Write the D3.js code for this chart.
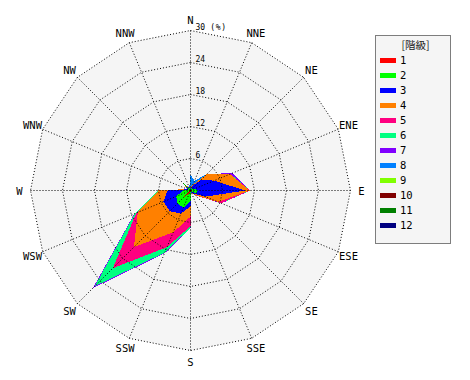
<!DOCTYPE html>
<html>
<head>
<meta charset="utf-8">
<script src="https://cdn.jsdelivr.net/npm/d3@7"></script>
<style>
  html, body { margin: 0; padding: 0; background: #ffffff; }
  svg { display: block; }
  text { font-family: "DejaVu Sans Mono", monospace; fill: #000; }
</style>
</head>
<body>
<script>
// ---- data ----
const directions = ["N","NNE","NE","ENE","E","ESE","SE","SSE","S","SSW","SW","WSW","W","WNW","NW","NNW"];
const classLabels = ["1","2","3","4","5","6","7","8","9","10","11","12"];
const ringTicks = [6, 12, 18, 24, 30];
const rangeMax = 30;
// frequency (%) of each class for each direction (N, NNE, ... NNW)
const class1  = [0.1, 0.2, 0.2, 0.2, 0.3, 0.2, 0.1, 0.1, 0.3, 0.6, 1.7, 0.3, 0.2, 0.1, 0.2, 0.1];
const class2  = [0.2, 0.3, 0.3, 0.6, 1.1, 1.0, 0.3, 0.2, 1.7, 2.9, 1.7, 2.6, 1.2, 0.3, 1.7, 0.3];
const class3  = [0.2, 0.5, 2.4, 4.0, 8.9, 1.8, 0.4, 0.1, 1.0, 1.2, 2.1, 2.6, 2.9, 0.2, 0.0, 0.1];
const class4  = [0.1, 0.2, 1.4, 3.2, 0.8, 2.6, 0.4, 0.1, 1.9, 3.8, 9.5, 5.2, 1.7, 0.1, 0.0, 0.1];
const class5  = [0.0, 0.0, 0.0, 0.05, 0.05, 0.6, 0.1, 0.0, 1.8, 3.0, 5.6, 0.3, 0.0, 0.0, 0.0, 0.0];
const class6  = [0.0, 0.0, 0.0, 0.05, 0.05, 0.05, 0.0, 0.0, 0.3, 1.1, 4.8, 0.3, 0.0, 0.0, 0.0, 0.0];
const class7  = [0.0, 0.0, 0.1, 0.4, 0.05, 0.05, 0.0, 0.0, 0.1, 0.2, 0.5, 0.1, 0.0, 0.0, 0.0, 0.0];
const class8  = [2.3, 0.8, 0.0, 0.0, 0.0, 0.0, 0.0, 0.0, 0.0, 0.0, 0.0, 0.0, 0.0, 0.0, 0.0, 0.0];
const class9  = [0, 0, 0, 0, 0, 0, 0, 0, 0, 0, 0, 0, 0, 0, 0, 0];
const class10 = [0, 0, 0, 0, 0, 0, 0, 0, 0, 0, 0, 0, 0, 0, 0, 0];
const class11 = [0, 0, 0, 0, 0, 0, 0, 0, 0, 0, 0, 0, 0, 0, 0, 0];
const class12 = [0, 0, 0, 0, 0, 0, 0, 0, 0, 0, 0, 0, 0, 0, 0, 0];
const classColors = ["#ff0000","#00ff00","#0000ff","#ff8000","#ff0080","#00ff80",
                     "#8000ff","#0080ff","#80ff00","#800000","#008000","#000080"];

// ---- build table ----
const classSeries = [class1,class2,class3,class4,class5,class6,class7,class8,class9,class10,class11,class12];
const table = directions.map((d, i) => {
  const row = { dir: d };
  classLabels.forEach((k, j) => { row[k] = classSeries[j][i]; });
  return row;
});
const stacked = d3.stack().keys(classLabels)(table);

// ---- layout ----
const W = 470, H = 380;
const cx = 190.5, cy = 190.5, R = 160;
const svg = d3.select("body").append("svg").attr("width", W).attr("height", H);
const r = d3.scaleLinear().domain([0, rangeMax]).range([0, R]);
const ang = d3.scaleLinear().domain([0, directions.length]).range([0, 2 * Math.PI]);
const g = svg.append("g").attr("transform", `translate(${cx},${cy})`);
const radial = d3.lineRadial()
  .angle((d, i) => ang(i))
  .radius(d => r(d))
  .curve(d3.curveLinearClosed);

// background polygon
g.append("path")
  .attr("d", radial(directions.map(() => rangeMax)))
  .attr("fill", "#f5f5f5");

// stacked layers, outermost first
g.append("g").selectAll("path")
  .data(stacked.slice().reverse())
  .join("path")
  .attr("d", s => radial(s.map(p => p[1])))
  .attr("fill", s => classColors[s.index])
  .attr("stroke", "none")
  .attr("shape-rendering", "crispEdges");

// grid rings
const grid = g.append("g").attr("fill", "none").attr("stroke", "#000")
  .attr("stroke-width", 1).attr("stroke-dasharray", "1,2");
grid.selectAll("path.ring")
  .data(ringTicks)
  .join("path")
  .attr("class", "ring")
  .attr("d", t => radial(directions.map(() => t)));
// spokes
grid.selectAll("line")
  .data(directions)
  .join("line")
  .attr("x1", 0).attr("y1", 0)
  .attr("x2", (d, i) => r(rangeMax) * Math.sin(ang(i)))
  .attr("y2", (d, i) => -r(rangeMax) * Math.cos(ang(i)));

// ring labels
const ringLab = g.append("g").selectAll("text")
  .data(ringTicks)
  .join("text")
  .attr("x", 5)
  .attr("y", t => -r(t) - 0.5)
  .attr("font-size", "8px")
  .text(t => t);
ringLab.filter(t => t === rangeMax)
  .append("tspan")
  .attr("dx", 5)
  .attr("letter-spacing", "0.8px")
  .text("(%)");

// direction labels
const labelR = r(rangeMax) + 11;
g.append("g").selectAll("text")
  .data(directions)
  .join("text")
  .attr("x", (d, i) => labelR * Math.sin(ang(i)))
  .attr("y", (d, i) => -labelR * Math.cos(ang(i)))
  .attr("text-anchor", "middle")
  .attr("dominant-baseline", "central")
  .attr("font-size", "10.5px")
  .text(d => d);

// legend
const lg = svg.append("g").attr("transform", "translate(375.5,35.5)");
lg.append("rect")
  .attr("width", 75).attr("height", 208)
  .attr("fill", "#f5f5f5").attr("stroke", "#000")
  .attr("stroke-dasharray", "1,1");
lg.append("text")
  .attr("x", 40).attr("y", 9)
  .attr("text-anchor", "middle")
  .attr("dominant-baseline", "central")
  .attr("font-size", "10.5px")
  .style("font-family", "'Noto Sans CJK JP', 'DejaVu Sans Mono', sans-serif")
  .style("fill", "#222")
  .text("[階級]");
const items = lg.selectAll("g.item")
  .data(classLabels)
  .join("g")
  .attr("class", "item")
  .attr("transform", (d, i) => `translate(0,${25 + 15 * i})`);
items.append("rect")
  .attr("x", 4.5).attr("y", -2.5)
  .attr("width", 16).attr("height", 5)
  .attr("fill", (d, i) => classColors[i]);
items.append("text")
  .attr("x", 24.5).attr("y", 3.8)
  .attr("font-size", "10.5px")
  .text(d => d);
</script>
</body>
</html>
